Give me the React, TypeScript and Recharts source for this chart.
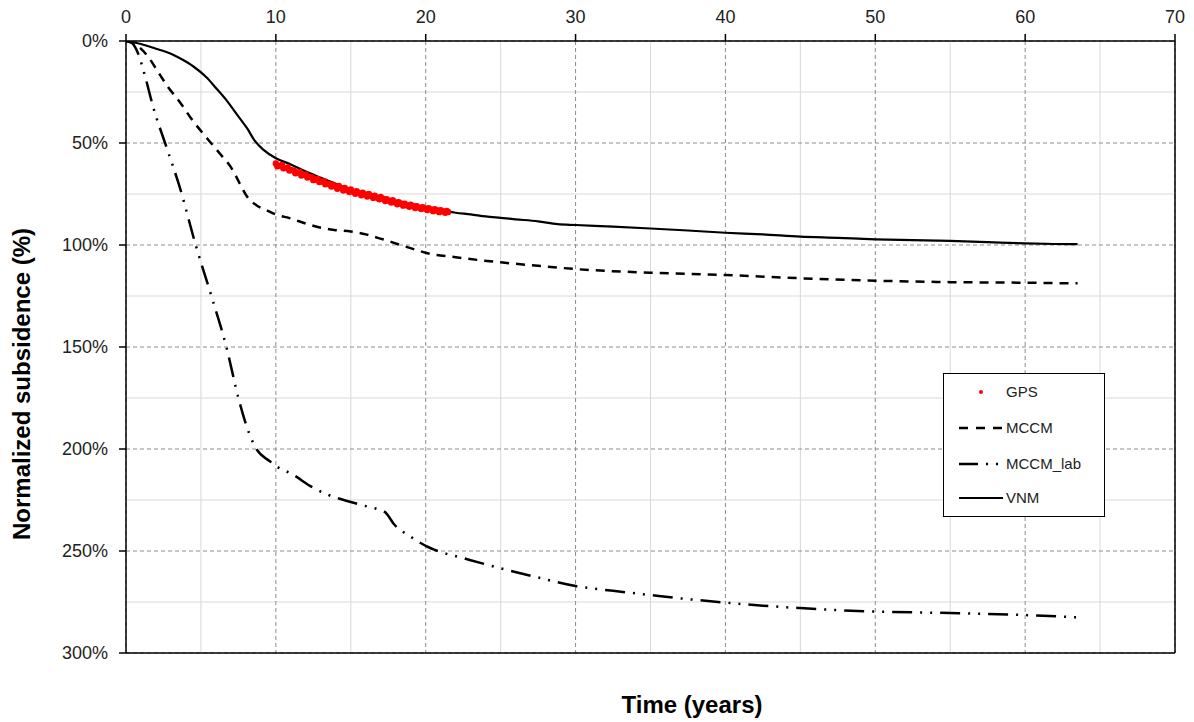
import React from 'react';
import {
  ComposedChart,
  Line,
  Scatter,
  XAxis,
  YAxis,
  CartesianGrid,
  ReferenceLine,
  Legend,
} from 'recharts';

// ---- ticks / gridlines ----
const xTicks = [0, 10, 20, 30, 40, 50, 60, 70];
const yTicks = [0, 50, 100, 150, 200, 250, 300];
const minorX = [5, 15, 25, 35, 45, 55, 65];
const minorY = [25, 75, 125, 175, 225, 275];

// ---- series (time in years, normalized subsidence in %) ----
const VNM: [number, number][] = [
  [0, 0], [0.5, 0.6], [1, 1.5], [2, 3.8], [3, 6.3], [3.6, 8.5], [4.5, 12.5], [5.4, 18],
  [6, 23], [6.7, 29], [7.4, 36], [8.1, 43], [8.6, 49], [9.2, 53.5], [10, 57.5],
  [11, 60.5], [12, 64], [13, 67], [14, 70], [15, 73], [16, 75], [17, 76.5], [18, 79],
  [19, 80.5], [20, 82], [21, 83], [22, 84.2], [23, 85], [24, 86], [25, 86.7], [26, 87.4],
  [27.5, 88.4], [28.8, 89.8], [30, 90.2], [32.5, 91], [35, 91.9], [37.5, 92.9], [40, 94],
  [42.5, 94.8], [45, 95.9], [47.5, 96.5], [50, 97.2], [52.5, 97.6], [55, 98], [57.5, 98.6],
  [60, 99.2], [62, 99.5], [63.5, 99.6],
];

const MCCM: [number, number][] = [
  [0, 0], [0.7, 2], [1.4, 7], [2.3, 17], [2.8, 22.5], [3.6, 30], [4.3, 37.5], [5.5, 48.5],
  [6.3, 55.5], [7.1, 63], [7.6, 70], [8.1, 76.5], [8.7, 80.5], [9.4, 83], [10, 85],
  [11, 87], [12, 89.5], [13, 91.5], [13.9, 92.6], [15, 93.4], [16, 94.8], [16.8, 96.5],
  [17.5, 98], [18.1, 99.5], [19.2, 102], [20, 103.8], [22, 106], [25, 108.5],
  [27.5, 110.2], [30, 111.8], [35, 113.6], [40, 114.7], [45, 116.3], [50, 117.5],
  [55, 118.2], [60, 118.5], [63.5, 118.8],
];

const MCCM_LAB: [number, number][] = [
  [0, 0], [0.4, 1], [0.8, 6], [1.3, 18], [1.8, 32], [2.7, 52], [3.6, 72], [4.65, 100],
  [5.7, 125], [6.7, 150], [7.5, 175], [8.2, 192], [8.7, 200], [9.6, 206], [10.15, 209],
  [11, 212], [12.5, 219], [13.5, 222.5], [15, 226], [16, 228], [16.8, 229.5], [17.3, 231],
  [17.9, 237], [19, 243], [20, 247.5], [20.8, 250], [22.5, 253.5], [25, 258.5],
  [27.5, 263], [30, 267.2], [32.5, 269.5], [35, 271.6], [37.5, 273.6], [40, 275.3],
  [42.5, 276.8], [45, 278], [47.5, 279], [50, 279.7], [55, 280.4], [60, 281.4], [63.4, 282.5],
];

const GPS: [number, number][] = [
  [10.0, 60.0], [10.1, 61.4], [10.2, 61.2], [10.4, 60.8], [10.5, 62.4], [10.6, 62.3],
  [10.8, 62.0], [10.9, 63.5], [11.0, 63.2], [11.2, 63.4], [11.3, 64.8], [11.4, 64.5],
  [11.6, 64.2], [11.7, 65.9], [11.8, 65.6], [12.0, 65.4], [12.1, 66.9], [12.2, 66.6],
  [12.4, 66.8], [12.5, 68.2], [12.6, 67.9], [12.8, 67.6], [12.9, 69.1], [13.0, 68.9],
  [13.2, 68.7], [13.3, 70.2], [13.4, 69.8], [13.6, 70.2], [13.7, 71.3], [13.8, 70.5],
  [14.0, 71.3], [14.1, 72.4], [14.2, 71.1], [14.4, 72.2], [14.5, 73.3], [14.6, 72.0],
  [14.8, 73.1], [14.9, 74.0], [15.0, 72.8], [15.2, 73.9], [15.3, 74.9], [15.4, 73.6],
  [15.6, 74.6], [15.7, 75.6], [15.8, 74.4], [16.0, 75.3], [16.1, 76.2], [16.2, 75.0],
  [16.4, 75.9], [16.5, 76.9], [16.6, 75.8], [16.8, 76.8], [16.9, 77.6], [17.0, 76.4],
  [17.2, 77.4], [17.3, 78.4], [17.4, 77.6], [17.6, 78.4], [17.7, 79.2], [17.8, 78.1],
  [18.0, 79.2], [18.1, 80.0], [18.2, 79.0], [18.4, 79.8], [18.5, 80.7], [18.6, 79.7],
  [18.8, 80.6], [18.9, 81.3], [19.0, 80.3], [19.2, 81.0], [19.3, 81.9], [19.4, 81.0],
  [19.6, 81.7], [19.7, 82.4], [19.8, 81.5], [20.0, 82.2], [20.1, 82.9], [20.2, 82.0],
  [20.4, 82.7], [20.5, 83.4], [20.6, 82.5], [20.8, 83.1], [20.9, 83.9], [21.0, 82.9],
  [21.2, 83.5], [21.3, 84.2], [21.4, 83.3], [21.5, 83.8],
];

const legendNames = ['GPS', 'MCCM', 'MCCM_lab', 'VNM'];

const toRows = (arr: [number, number][]) => arr.map(([t, v]) => ({ t, v }));

const FONT = '"Liberation Sans", Arial, sans-serif';
const TEXT = '#222';
const DASH_MCCM = '9 7';
const DASH_LAB = '20 8 2 8 2 8';

const LegendBox = () => (
  <div
    style={{
      width: 162,
      height: 144,
      border: '1.5px solid #000',
      boxSizing: 'border-box',
      background: '#fff',
      position: 'relative',
      fontFamily: FONT,
      fontSize: 15,
      color: TEXT,
    }}
  >
    {legendNames.map((name, i) => {
      const top = [18, 54, 90, 124][i];
      return (
        <div key={name} style={{ position: 'absolute', left: 0, top: top - 9, height: 18, width: 160 }}>
          <svg width={50} height={18} style={{ position: 'absolute', left: 14, top: 0 }}>
            {i === 0 && <circle cx={23} cy={9} r={2} fill="#ff0000" />}
            {i === 1 && <line x1={1} y1={9} x2={45} y2={9} stroke="#000" strokeWidth={2.5} strokeDasharray="9 8" />}
            {i === 2 && <line x1={1} y1={9} x2={45} y2={9} stroke="#000" strokeWidth={2.5} strokeDasharray="19 8 2 8 2 8" />}
            {i === 3 && <line x1={1} y1={9} x2={45} y2={9} stroke="#000" strokeWidth={2.2} />}
          </svg>
          <span style={{ position: 'absolute', left: 62, top: 0, lineHeight: '18px' }}>{name}</span>
        </div>
      );
    })}
  </div>
);

export default function App() {
  return (
    <div
      style={{
        position: 'absolute',
        left: 0,
        top: 0,
        width: 1194,
        height: 722,
        background: '#fff',
        fontFamily: FONT,
      }}
    >
      <ComposedChart
        width={1194}
        height={722}
        margin={{ top: 0, right: 19, bottom: 69, left: 0 }}
      >
        <CartesianGrid
          stroke="#d9d9d9"
          strokeWidth={1}
          verticalValues={minorX}
          horizontalValues={minorY}
          fill="none"
        />
        <CartesianGrid stroke="#8c8c8c" strokeWidth={1} strokeDasharray="4 3" fill="none" />
        <XAxis
          type="number"
          dataKey="t"
          orientation="top"
          domain={[0, 70]}
          ticks={xTicks}
          interval={0}
          allowDataOverflow
          height={41}
          tickSize={7}
          tickMargin={11}
          stroke="#000"
          strokeWidth={1.5}
          tick={{ fill: TEXT, fontSize: 18, fontFamily: FONT }}
        />
        <YAxis
          type="number"
          dataKey="v"
          domain={[0, 300]}
          reversed
          ticks={yTicks}
          interval={0}
          allowDataOverflow
          width={126}
          tickSize={7}
          tickMargin={11}
          stroke="#000"
          strokeWidth={1.5}
          tickFormatter={(v: number) => `${v}%`}
          tick={{ fill: TEXT, fontSize: 18, fontFamily: FONT }}
        />
        <ReferenceLine x={70} stroke="#000" strokeWidth={1.5} />
        <ReferenceLine y={300} stroke="#000" strokeWidth={1.5} />
        <Line
          data={toRows(MCCM_LAB)}
          dataKey="v"
          name="MCCM_lab"
          type="monotone"
          stroke="#000"
          strokeWidth={2.5}
          strokeDasharray={DASH_LAB}
          dot={false}
          activeDot={false}
          isAnimationActive={false}
        />
        <Line
          data={toRows(MCCM)}
          dataKey="v"
          name="MCCM"
          type="monotone"
          stroke="#000"
          strokeWidth={2.5}
          strokeDasharray={DASH_MCCM}
          dot={false}
          activeDot={false}
          isAnimationActive={false}
        />
        <Line
          data={toRows(VNM)}
          dataKey="v"
          name="VNM"
          type="monotone"
          stroke="#000"
          strokeWidth={2.2}
          dot={false}
          activeDot={false}
          isAnimationActive={false}
        />
        <Scatter
          data={toRows(GPS)}
          dataKey="v"
          name="GPS"
          fill="#ff0000"
          isAnimationActive={false}
          shape={(p: any) => <circle cx={p.cx} cy={p.cy} r={3.2} fill="#ff0000" />}
        />
        <Legend
          layout="horizontal"
          verticalAlign="middle"
          align="center"
          content={() => <LegendBox />}
          wrapperStyle={{ position: 'absolute', left: 943, top: 373, width: 162, height: 144 }}
        />
      </ComposedChart>
      <div
        style={{
          position: 'absolute',
          left: 22,
          top: 384,
          transform: 'translate(-50%, -50%) rotate(-90deg)',
          whiteSpace: 'nowrap',
          fontWeight: 'bold',
          fontSize: 24,
          color: '#000',
        }}
      >
        Normalized subsidence (%)
      </div>
      <div
        style={{
          position: 'absolute',
          left: 692,
          top: 705,
          transform: 'translate(-50%, -50%)',
          whiteSpace: 'nowrap',
          fontWeight: 'bold',
          fontSize: 24,
          color: '#000',
        }}
      >
        Time (years)
      </div>
    </div>
  );
}
